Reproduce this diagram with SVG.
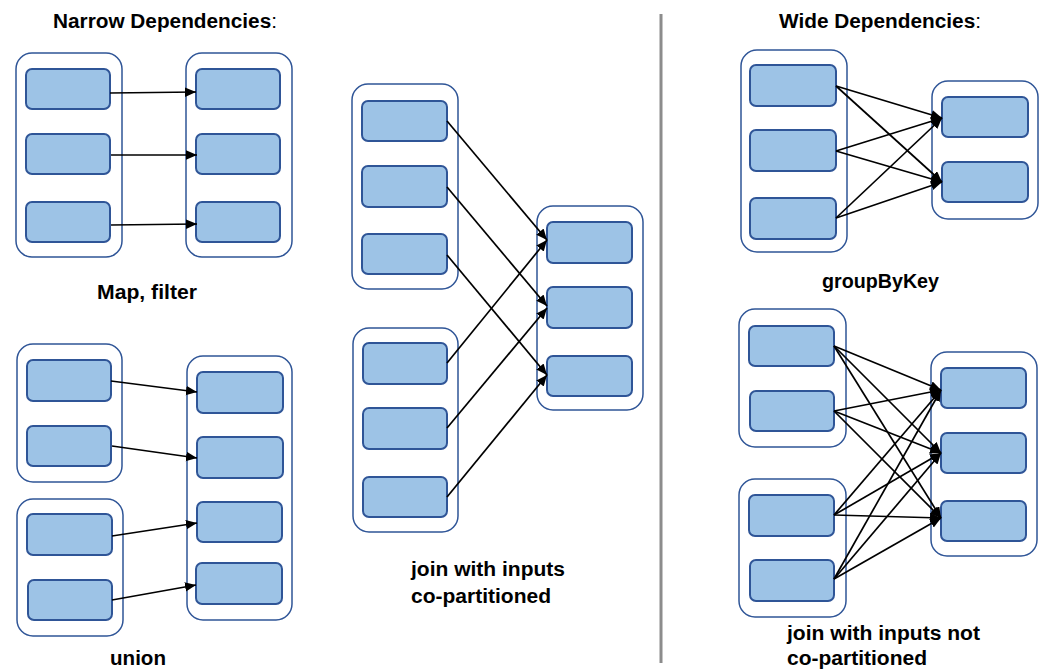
<svg xmlns="http://www.w3.org/2000/svg" width="1045" height="671" viewBox="0 0 1045 671">
<style>
.c{fill:#fff;stroke:#2F5597;stroke-width:1.5}
.b{fill:#9DC3E6;stroke:#2F5597;stroke-width:2}
.t{font-family:"Liberation Sans",Arial,sans-serif;font-weight:bold;font-size:20px;fill:#000}
.e{stroke:#000;stroke-width:1.7;fill:none;marker-end:url(#ah)}
</style>
<defs>
<marker id="ah" markerUnits="userSpaceOnUse" markerWidth="12" markerHeight="10" refX="11" refY="4.75" orient="auto">
<path d="M0,0 L11,4.75 L0,9.5 z" fill="#000"/>
</marker>
</defs>
<rect width="1045" height="671" fill="#fff"/>
<line x1="661" y1="14" x2="661" y2="663" stroke="#8c8c8c" stroke-width="3"/>

<text class="t" x="53" y="28" textLength="224" lengthAdjust="spacingAndGlyphs">Narrow Dependencies<tspan font-weight="normal">:</tspan></text>
<text class="t" x="779" y="28" textLength="202" lengthAdjust="spacingAndGlyphs">Wide Dependencies<tspan font-weight="normal">:</tspan></text>
<text class="t" x="97" y="299" textLength="100" lengthAdjust="spacingAndGlyphs">Map, filter</text>
<text class="t" x="110" y="665" textLength="56" lengthAdjust="spacingAndGlyphs">union</text>
<text class="t" x="411" y="576" textLength="154" lengthAdjust="spacingAndGlyphs">join with inputs</text>
<text class="t" x="411" y="603" textLength="140" lengthAdjust="spacingAndGlyphs">co-partitioned</text>
<text class="t" x="822" y="288" textLength="117" lengthAdjust="spacingAndGlyphs">groupByKey</text>
<text class="t" x="787" y="640" textLength="193" lengthAdjust="spacingAndGlyphs">join with inputs not</text>
<text class="t" x="787" y="665" textLength="140" lengthAdjust="spacingAndGlyphs">co-partitioned</text>

<g id="mapA">
<rect class="c" x="16" y="53" width="106" height="204" rx="16"/>
<rect class="b" x="26" y="69" width="84" height="40" rx="6"/>
<rect class="b" x="26" y="134" width="84" height="40" rx="6"/>
<rect class="b" x="26" y="202" width="84" height="40" rx="6"/>
</g>
<g id="mapB">
<rect class="c" x="186" y="53" width="106" height="204" rx="16"/>
<rect class="b" x="196" y="69" width="84" height="40" rx="6"/>
<rect class="b" x="196" y="134" width="84" height="40" rx="6"/>
<rect class="b" x="196" y="202" width="84" height="40" rx="6"/>
</g>

<g id="unionA">
<rect class="c" x="17" y="344" width="105" height="138" rx="16"/>
<rect class="b" x="27" y="360" width="84" height="41" rx="6"/>
<rect class="b" x="27" y="426" width="84" height="40" rx="6"/>
</g>
<g id="unionB">
<rect class="c" x="17" y="499" width="106" height="137" rx="16"/>
<rect class="b" x="27" y="514" width="85" height="41" rx="6"/>
<rect class="b" x="28" y="580" width="84" height="40" rx="6"/>
</g>
<g id="unionC">
<rect class="c" x="187" y="356" width="105" height="264" rx="16"/>
<rect class="b" x="197" y="372" width="86" height="41" rx="6"/>
<rect class="b" x="197" y="437" width="86" height="41" rx="6"/>
<rect class="b" x="197" y="502" width="85" height="40" rx="6"/>
<rect class="b" x="196" y="563" width="86" height="41" rx="6"/>
</g>

<g id="joinA">
<rect class="c" x="352" y="84" width="106" height="205" rx="16"/>
<rect class="b" x="362" y="101" width="85" height="40" rx="6"/>
<rect class="b" x="362" y="166" width="85" height="41" rx="6"/>
<rect class="b" x="362" y="234" width="85" height="40" rx="6"/>
</g>
<g id="joinB">
<rect class="c" x="353" y="328" width="105" height="204" rx="16"/>
<rect class="b" x="363" y="343" width="84" height="41" rx="6"/>
<rect class="b" x="363" y="408" width="84" height="41" rx="6"/>
<rect class="b" x="363" y="477" width="84" height="40" rx="6"/>
</g>
<g id="joinC">
<rect class="c" x="537" y="206" width="106" height="204" rx="16"/>
<rect class="b" x="547" y="222" width="85" height="41" rx="6"/>
<rect class="b" x="547" y="287" width="85" height="41" rx="6"/>
<rect class="b" x="547" y="356" width="85" height="40" rx="6"/>
</g>

<g id="gbkA">
<rect class="c" x="741" y="50" width="106" height="202" rx="16"/>
<rect class="b" x="750" y="65" width="86" height="41" rx="6"/>
<rect class="b" x="750" y="130" width="86" height="41" rx="6"/>
<rect class="b" x="750" y="198" width="86" height="41" rx="6"/>
</g>
<g id="gbkB">
<rect class="c" x="932" y="81" width="106" height="138" rx="16"/>
<rect class="b" x="942" y="97" width="86" height="40" rx="6"/>
<rect class="b" x="942" y="162" width="86" height="40" rx="6"/>
</g>

<g id="wjA">
<rect class="c" x="739" y="309" width="107" height="138" rx="16"/>
<rect class="b" x="749" y="326" width="85" height="40" rx="6"/>
<rect class="b" x="750" y="391" width="84" height="40" rx="6"/>
</g>
<g id="wjB">
<rect class="c" x="739" y="479" width="107" height="138" rx="16"/>
<rect class="b" x="749" y="495" width="85" height="41" rx="6"/>
<rect class="b" x="750" y="560" width="84" height="41" rx="6"/>
</g>
<g id="wjC">
<rect class="c" x="931" y="352" width="106" height="204" rx="16"/>
<rect class="b" x="941" y="368" width="85" height="40" rx="6"/>
<rect class="b" x="941" y="433" width="85" height="40" rx="6"/>
<rect class="b" x="941" y="501" width="85" height="40" rx="6"/>
</g>

<g id="connectors">
<line class="e" x1="110" y1="93" x2="196" y2="92"/>
<line class="e" x1="111" y1="155" x2="197" y2="155"/>
<line class="e" x1="111" y1="225" x2="197" y2="224"/>

<line class="e" x1="111" y1="381" x2="197" y2="392"/>
<line class="e" x1="112" y1="446" x2="197" y2="458"/>
<line class="e" x1="112" y1="536" x2="197" y2="523"/>
<line class="e" x1="112" y1="600" x2="196" y2="585"/>

<line class="e" x1="447" y1="121" x2="547" y2="240"/>
<line class="e" x1="447" y1="187" x2="547" y2="306"/>
<line class="e" x1="447" y1="255" x2="547" y2="375"/>
<line class="e" x1="447" y1="363" x2="547" y2="240"/>
<line class="e" x1="447" y1="428" x2="547" y2="308"/>
<line class="e" x1="447" y1="497" x2="547" y2="375"/>

<line class="e" x1="836" y1="86" x2="942" y2="118"/>
<line class="e" x1="836" y1="86" x2="942" y2="182"/>
<line class="e" x1="836" y1="151" x2="942" y2="118"/>
<line class="e" x1="836" y1="151" x2="942" y2="182"/>
<line class="e" x1="836" y1="218" x2="942" y2="118"/>
<line class="e" x1="836" y1="218" x2="942" y2="182"/>

<line class="e" x1="834" y1="346" x2="941" y2="390"/>
<line class="e" x1="834" y1="346" x2="941" y2="453"/>
<line class="e" x1="834" y1="346" x2="941" y2="518"/>
<line class="e" x1="834" y1="411" x2="941" y2="390"/>
<line class="e" x1="834" y1="411" x2="941" y2="453"/>
<line class="e" x1="834" y1="411" x2="941" y2="518"/>
<line class="e" x1="834" y1="515" x2="941" y2="390"/>
<line class="e" x1="834" y1="515" x2="941" y2="453"/>
<line class="e" x1="834" y1="515" x2="941" y2="518"/>
<line class="e" x1="834" y1="579" x2="941" y2="390"/>
<line class="e" x1="834" y1="579" x2="941" y2="453"/>
<line class="e" x1="834" y1="579" x2="941" y2="518"/>
</g>
</svg>
